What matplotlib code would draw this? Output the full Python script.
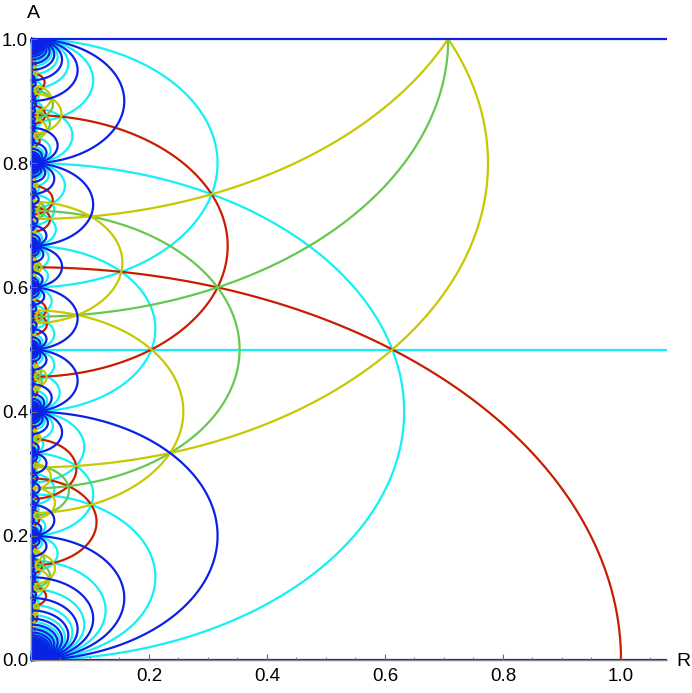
import math
from collections import deque
import numpy as np
import matplotlib
matplotlib.use("Agg")
import matplotlib.pyplot as plt
from matplotlib.collections import LineCollection
from matplotlib.ticker import MultipleLocator

# ---------------- data ----------------
# straight geodesics A = const (drawn as horizontal lines)
line_positions = [0.0, 1.0, 0.5]
line_colors = ["blue", "blue", "cyan"]
# circular geodesics: centre on the A axis and squared radius (A units)
circle_centers = [0.0, 1.0, 0.8]
circle_radii_sq = [0.4, 0.2, 0.24]
circle_colors = ["red", "green", "yellow"]
# mirrors that generate the whole pattern
mirror_lines = [0.0, 1.0]
mirror_circles = [0, 1]          # indices into the circle lists
red_R_at_axis = 1.0              # R where the red circle meets A = 0

palette = {"blue": "#0a22e6", "cyan": "#14f0f5", "green": "#66c850",
           "yellow": "#c8c800", "red": "#c81e00"}
draw_order = ["cyan", "red", "green", "yellow", "blue"]
x_ticks = [0.2, 0.4, 0.6, 0.8, 1.0]
y_ticks = [0.0, 0.2, 0.4, 0.6, 0.8, 1.0]
R_max = 1.078

# ---------------- orbit of the geodesics under the mirrors ----------------
INF = math.inf
EPS = 0.0007
L0, L1 = mirror_lines
PERIOD = 2 * (L1 - L0)
inversions = [(circle_centers[i], circle_radii_sq[i]) for i in mirror_circles]
R_SCALE = red_R_at_axis / math.sqrt(circle_radii_sq[0])


def reduce_pos(x):
    x = (x - L0) % PERIOD
    if x > L1 - L0:
        x = PERIOD - x
    return x + L0


def invert(x, c, r2):
    if x == INF:
        return c
    d = x - c
    if abs(d) < 1e-12:
        return INF
    return c + r2 / d


def make(a, b):
    if a == INF:
        a, b = b, a
    if b == INF:
        return ("v", a)
    if a > b:
        a, b = b, a
    return ("c", 0.5 * (a + b), 0.5 * (b - a))


reps = {}
queue = deque()


def add(geo, col):
    if geo[0] == "v":
        x = reduce_pos(geo[1])
        g = ("v", x)
        key = ("v", round(x, 7))
    else:
        if geo[2] < EPS:
            return
        c = reduce_pos(geo[1])
        g = ("c", c, geo[2])
        key = ("c", round(c, 7), round(geo[2], 7))
    if key in reps:
        return
    reps[key] = (g, col)
    queue.append((g, col))


for x, col in zip(line_positions, line_colors):
    add(("v", x), col)
for c, r2, col in zip(circle_centers, circle_radii_sq, circle_colors):
    add(("c", c, math.sqrt(r2)), col)

while queue and len(reps) < 600000:
    g, col = queue.popleft()
    for ic, ir2 in inversions:
        if g[0] == "v":
            x0 = g[1]
            D = 0.5 * ir2 / EPS
            rho = 0.0
        else:
            x0, rho = g[1], g[2]
            D = math.sqrt(ir2 * rho / EPS + rho * rho)
        for start in (x0, 2 * L0 - x0):
            m_lo = int(math.floor((ic - D - start) / PERIOD)) - 1
            m_hi = int(math.ceil((ic + D - start) / PERIOD)) + 1
            for m in range(m_lo, m_hi + 1):
                C = start + PERIOD * m
                if g[0] == "v":
                    a, b = C, INF
                else:
                    a, b = C - rho, C + rho
                na, nb = invert(a, ic, ir2), invert(b, ic, ir2)
                add(make(na, nb), col)

# ---------------- build drawable segments ----------------
segments = {k: [] for k in palette}
for g, col in reps.values():
    if g[0] == "v":
        x = g[1]
        if -1e-9 <= x <= 1 + 1e-9:
            segments[col].append(np.array([[0.0, x], [R_max, x]]))
        continue
    c, rho = g[1], g[2]
    centers = {round(c, 9): c, round(2 * L0 - c, 9): 2 * L0 - c,
               round(2 * L1 - c, 9): 2 * L1 - c}
    for C in centers.values():
        if C - rho >= 1 or C + rho <= 0:
            continue
        t1 = math.acos(max(-1.0, min(1.0, (1 - C) / rho)))
        t2 = math.acos(max(-1.0, min(1.0, (0 - C) / rho)))
        if t2 - t1 <= 1e-9:
            continue
        n = max(8, int(700 * rho * (t2 - t1) / math.pi) + 2)
        th = np.linspace(t1, t2, n)
        A = C + rho * np.cos(th)
        R = rho * np.sin(th) * R_SCALE
        segments[col].append(np.column_stack([R, A]))

# ---------------- figure ----------------
plt.rcParams["font.family"] = ["Liberation Sans", "DejaVu Sans"]
fig = plt.figure(figsize=(6.92, 6.93), dpi=100)
ax = fig.add_axes([31 / 692, 33 / 693, 636 / 692, 621 / 693])
ax.set_xlim(0, R_max)
ax.set_ylim(0, 1)

for z, col in enumerate(draw_order):
    lc = LineCollection(segments[col], colors=palette[col], linewidths=1.6,
                        clip_on=False, zorder=1 + z * 0.1, capstyle="butt")
    ax.add_collection(lc)

for s in ("top", "right"):
    ax.spines[s].set_visible(False)
for s in ("left", "bottom"):
    ax.spines[s].set_color("#8a8a8a")
    ax.spines[s].set_linewidth(0.8)

ax.set_xticks(x_ticks)
ax.set_xticklabels([f"{v:.1f}" for v in x_ticks])
ax.set_yticks(y_ticks)
ax.set_yticklabels([f"{v:.1f}" for v in y_ticks])
ax.xaxis.set_minor_locator(MultipleLocator(0.05))
ax.yaxis.set_minor_locator(MultipleLocator(0.05))
ax.tick_params(which="major", direction="in", length=4.5, width=0.8,
               color="#6a6a6a", labelsize=13.5, labelcolor="black")
ax.tick_params(which="minor", direction="in", length=2.5, width=0.6,
               color="#6a6a6a")
ax.tick_params(axis="x", which="major", pad=6)
ax.tick_params(axis="y", which="major", pad=2)

fig.text(33 / 692, 1 - 13 / 693, "A", ha="center", va="center", fontsize=14)
fig.text(683 / 692, 1 - 661 / 693, "R", ha="center", va="center", fontsize=14)

fig.savefig("out.png", dpi=100)
